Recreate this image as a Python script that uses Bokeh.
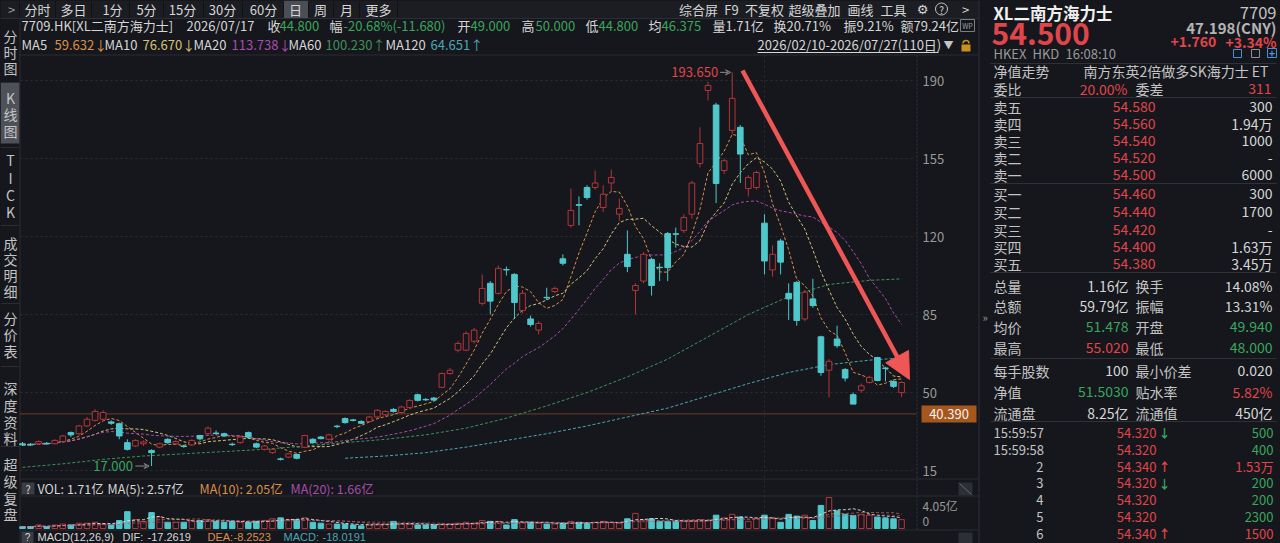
import numpy as np
import pandas as pd
from collections import defaultdict
from bokeh.plotting import figure
from bokeh.models import Range1d, ColumnDataSource, Arrow, NormalHead, VeeHead
from bokeh.core.properties import value
from bokeh.embed import file_html
from bokeh.resources import INLINE

# ---------------- data ----------------
opens = [27.0, 26.8, 27.0, 27.2, 27.0, 28.0, 32.0, 31.5, 35.0, 37.5,
         38.0, 36.8, 36.0, 27.5, 26.0, 27.0, 24.0, 25.5, 29.0, 27.0,
         26.0, 26.5, 30.7, 31.5, 31.8, 31.5, 26.8, 27.5, 32.0, 27.0,
         24.5, 23.0, 20.2, 21.0, 22.2, 25.4, 29.0, 30.0, 29.0, 34.9,
         38.3, 37.7, 37.0, 37.0, 39.0, 40.0, 42.4, 41.0, 43.3, 49.0,
         46.9, 47.5, 52.3, 58.5, 69.0, 69.0, 73.0, 90.0, 99.0, 94.5,
         105.2, 103.0, 86.8, 83.0, 78.0, 92.7, 95.3, 110.0, 125.0, 134.3,
         142.0, 142.0, 133.0, 144.0, 130.0, 112.0, 95.8, 100.0, 109.7, 106.2,
         121.3, 121.2, 122.7, 130.0, 152.8, 185.5, 179.0, 149.6, 167.6, 169.0,
         141.5, 142.0, 126.0, 105.0, 118.0, 94.5, 99.4, 83.0, 92.0, 75.0,
         60.0, 74.0, 60.3, 49.0, 51.0, 54.5, 65.7, 61.0, 55.0, 49.94]
closes = [26.5, 26.5, 28.0, 27.0, 28.5, 30.5, 31.0, 35.0, 38.0, 41.5,
          41.0, 36.2, 30.5, 24.5, 28.5, 27.8, 23.0, 27.0, 27.5, 28.0,
          25.8, 28.5, 29.2, 34.0, 31.6, 30.5, 26.6, 30.0, 30.0, 25.5,
          26.0, 24.5, 20.0, 22.5, 20.5, 30.7, 27.6, 29.3, 31.0, 34.7,
          36.5, 37.5, 36.2, 39.0, 42.0, 41.5, 41.5, 43.5, 46.4, 46.5,
          46.7, 46.6, 58.5, 60.0, 72.0, 76.5, 78.0, 96.7, 91.0, 105.7,
          105.0, 90.4, 94.5, 80.5, 81.0, 92.5, 96.7, 108.0, 131.7, 134.0,
          137.5, 144.0, 139.0, 146.5, 132.6, 106.5, 98.0, 112.0, 98.0, 106.0,
          106.0, 121.0, 128.5, 144.0, 161.7, 187.8, 143.8, 154.0, 182.0, 157.0,
          146.5, 148.7, 109.0, 112.0, 108.5, 92.0, 82.3, 95.0, 89.0, 59.0,
          64.0, 71.0, 56.48, 44.8, 53.0, 56.8, 55.4, 60.8, 52.74, 54.5]
highs = [27.8, 27.3, 28.5, 27.8, 29.0, 31.0, 32.5, 35.5, 39.0, 42.5,
         42.0, 37.5, 36.5, 29.0, 29.0, 28.5, 24.5, 27.5, 29.5, 28.5,
         26.5, 29.0, 31.0, 34.8, 33.0, 32.0, 27.5, 30.5, 32.5, 27.5,
         26.5, 25.0, 20.8, 23.0, 22.5, 31.0, 29.5, 30.5, 31.5, 35.5,
         38.8, 38.2, 37.5, 39.5, 42.5, 42.0, 43.0, 44.0, 47.0, 49.5,
         47.5, 48.0, 59.0, 61.0, 73.0, 77.5, 79.0, 103.0, 100.0, 107.0,
         106.5, 103.5, 96.0, 84.5, 82.0, 97.0, 97.5, 112.0, 141.5, 138.0,
         143.0, 149.6, 143.0, 150.0, 137.0, 122.7, 99.0, 113.0, 110.5, 108.0,
         122.0, 124.0, 130.0, 145.0, 169.0, 189.5, 180.0, 155.0, 193.65, 170.0,
         147.5, 149.5, 130.0, 116.0, 119.0, 99.0, 100.0, 96.0, 101.0, 75.5,
         65.0, 80.0, 61.0, 50.0, 54.0, 57.5, 66.0, 61.5, 55.5, 55.02]
lows = [26.0, 26.0, 26.6, 26.5, 26.8, 27.5, 30.0, 31.0, 34.5, 37.0,
        37.5, 35.5, 29.0, 24.0, 25.5, 26.0, 17.0, 25.0, 27.0, 26.5,
        25.2, 26.0, 28.5, 31.0, 31.0, 30.0, 26.0, 27.0, 29.5, 25.0,
        24.0, 22.5, 19.5, 20.5, 20.0, 25.0, 27.0, 29.0, 28.5, 34.0,
        36.0, 37.0, 35.8, 36.5, 38.5, 39.5, 41.0, 40.5, 43.0, 46.0,
        46.2, 46.2, 52.0, 58.0, 68.0, 68.5, 72.0, 89.0, 85.0, 94.0,
        102.5, 83.0, 85.5, 79.5, 76.0, 91.5, 94.5, 107.0, 124.0, 125.0,
        136.5, 141.0, 131.0, 140.0, 127.0, 104.0, 85.0, 99.0, 93.5, 100.0,
        100.0, 115.0, 121.5, 128.0, 151.0, 181.0, 135.0, 148.0, 166.0, 144.0,
        138.0, 141.0, 103.0, 102.0, 103.0, 82.5, 80.0, 82.0, 88.0, 57.5,
        47.8, 70.0, 55.0, 44.8, 50.0, 54.0, 55.0, 55.0, 52.0, 48.0]
volumes = [0.23, 0.23, 0.46, 0.23, 0.46, 0.58, 0.46, 0.69, 0.69, 0.81,
           0.58, 0.46, 1.04, 2.20, 1.16, 0.93, 2.08, 1.50, 0.81, 0.81,
           0.81, 1.04, 1.04, 1.16, 0.93, 0.81, 0.93, 0.81, 0.81, 0.93,
           1.04, 1.27, 1.39, 1.16, 1.16, 1.39, 0.81, 0.69, 0.58, 0.58,
           0.58, 0.46, 0.35, 0.46, 0.58, 0.58, 0.93, 0.58, 0.58, 0.46,
           0.46, 0.46, 0.58, 0.58, 0.69, 0.81, 0.69, 1.04, 0.93, 0.93,
           0.46, 1.16, 0.81, 0.81, 0.69, 0.58, 0.58, 0.69, 0.93, 0.81,
           0.69, 0.81, 0.93, 0.81, 0.69, 1.27, 1.97, 1.16, 1.27, 0.93,
           0.93, 0.93, 0.93, 1.04, 1.16, 1.04, 1.74, 1.39, 1.85, 1.50,
           0.93, 1.27, 1.74, 1.39, 0.81, 1.85, 1.62, 1.74, 1.04, 3.01,
           4.05, 2.31, 1.85, 1.71, 1.85, 1.74, 1.50, 1.39, 1.27, 1.16]
ma60_days = [0, 5, 10, 15, 20, 25, 30, 35, 40, 45, 50, 55, 60, 65, 70, 75, 80, 85, 90, 95, 100, 105, 109]
ma60_vals = [16.4, 18.0, 20.0, 21.5, 22.5, 23.5, 24.5, 26.0, 27.5, 29.0, 31.0, 34.0,
             38.5, 44.0, 50.0, 57.0, 65.0, 75.0, 85.0, 93.0, 98.5, 100.3, 101.0]
ma120_days = [40, 45, 50, 55, 60, 65, 70, 75, 80, 85, 90, 95, 100, 105, 109]
ma120_vals = [20.5, 21.5, 23.0, 25.5, 28.5, 31.5, 35.0, 39.0, 43.0, 48.5, 54.0, 59.0, 62.5, 64.5, 65.5]
price_ticks = [190, 155, 120, 85, 50, 15]
last_line_price = 40.39
hi_day, hi_price = 88, 193.65
lo_day, lo_price = 16, 17.0
vol_max = 4.05

# ---------------- layout / style ----------------
W, H = 1280, 543
FONT = "Noto Sans CJK SC"
FONT_LAT = "Liberation Sans"
BG = "#15171c"
SEP = "#2a2d33"
TXT = "#d6d6d6"
LBL = "#c4c4c4"
DIM = "#9a9a9a"
RED = "#e0454b"
GRN = "#3aa65c"
CYAN = "#4fc8cc"
CRED = "#b3363b"
C_MA5, C_MA10, C_MA20, C_MA60, C_MA120 = "#dc9048", "#d8c279", "#a84dad", "#3d9258", "#4aa6b5"

SLOT = 8.065      # px per trading day
X0 = 22           # px of day 0
PY0 = 80          # px of price 190
PPU = 78 / 35     # px per price unit
V0 = 528          # px of volume 0
VPPU = 31 / vol_max

p = figure(width=W, height=H, output_backend="svg", toolbar_location=None,
           x_range=Range1d(0, W), y_range=Range1d(H, 0),
           x_axis_location=None, y_axis_location=None, min_border=0,
           background_fill_color=BG, border_fill_color=BG, outline_line_color=None)
p.grid.visible = False
p.extra_x_ranges = {"idx": Range1d(-X0 / SLOT, (W - X0) / SLOT)}
p.extra_y_ranges = {"price": Range1d(190 - (H - PY0) / PPU, 190 + PY0 / PPU),
                    "vol": Range1d(-(H - V0) / VPPU, V0 / VPPU)}

def seg(x0, y0, x1, y1, color=SEP, width=1, dash="solid"):
    p.segment(x0=[x0], y0=[y0], x1=[x1], y1=[y1], line_color=color, line_width=width, line_dash=dash)

def box(l, r, t, b, color, line=None):
    p.quad(left=[l], right=[r], top=[t], bottom=[b], fill_color=color, line_color=line)

texts = []
def T(x, y, s, color=TXT, size=13, align="left", bold=False, font=FONT):
    texts.append((x, y, s, color, size, align, bold, font))

# ---------------- frame / separators ----------------
box(0, 978, 0, 17.5, "#1b1d22")
box(283, 308, 0, 17.5, "#4b4e55")
box(0, 19, 82, 143, "#4e5158")
seg(0, 18, 978, 18)
seg(978.5, 0, 978.5, H, "#30333a")
seg(19.5, 18, 19.5, H)
seg(19, 54.5, 978, 54.5)
seg(19, 478.5, 978, 478.5)
seg(19, 495.5, 978, 495.5)
seg(19, 529.5, 978, 529.5)
seg(916.5, 55, 916.5, 529, "#33363c", 1, "2 2")
for yy in [82, 147, 225, 303, 366, 446]:
    seg(0, yy, 19, yy)
for xx in [19, 55, 91, 129, 163, 203, 242, 283, 308, 333, 359, 397]:
    seg(xx, 1, xx, 17, "#111216")

# ---------------- top tab bar ----------------
T(11, 8.5, ">", DIM, 13, "center")
for s, x in [("分时", 37), ("多日", 73), ("1分", 112), ("5分", 146), ("15分", 182), ("30分", 222),
             ("60分", 263), ("日", 295), ("周", 320), ("月", 346), ("更多", 378)]:
    T(x, 8.5, s, TXT, 13, "center")
for s, x in [("综合屏", 698), ("F9", 731), ("不复权", 764), ("超级叠加", 814), ("画线", 860), ("工具", 893)]:
    T(x, 8.5, s, TXT, 13, "center")
T(922, 8.5, "⚙", TXT, 13, "center", font="DejaVu Sans")
p.circle(x=[941], y=[8.5], radius=6, fill_color=None, line_color=LBL, line_width=1)
T(941, 8.5, "?", TXT, 10, "center")
T(965, 8.5, ">", TXT, 13, "center")

# ---------------- sidebar ----------------
side = [("分", 35), ("时", 51), ("图", 67), ("K", 97), ("线", 113), ("图", 130),
        ("T", 159), ("I", 177), ("C", 194), ("K", 211),
        ("成", 242), ("交", 258), ("明", 274), ("细", 290),
        ("分", 317), ("价", 333), ("表", 350),
        ("深", 387), ("度", 404), ("资", 421), ("料", 437),
        ("超", 463), ("级", 480), ("复", 497), ("盘", 513)]
for s, y in side:
    T(10, y, s, LBL, 14, "center")

# ---------------- info rows ----------------
info = [("7709.HK[XL二南方海力士]", 21, TXT), ("2026/07/17", 186, TXT), ("收", 267, TXT), ("44.800", 279, GRN),
        ("幅", 329, TXT), ("-20.68%(-11.680)", 343, GRN), ("开", 457, TXT), ("49.000", 470, GRN),
        ("高", 521, TXT), ("50.000", 535, GRN), ("低", 585, TXT), ("44.800", 598, GRN),
        ("均", 648, TXT), ("46.375", 661, GRN), ("量1.71亿", 712, TXT), ("换20.71%", 773, TXT),
        ("振9.21%", 843, TXT), ("额79.24亿", 900, TXT)]
for s, x, c in info:
    T(x, 25, s, c, 13)
box(960, 974, 19, 31, None, "#7a7d84")
T(967, 25, "WP", "#9a9da4", 7, "center")

ma_leg = [("MA5", 21, TXT), ("59.632↓", 54, C_MA5), ("MA10", 104, TXT), ("76.670↓", 142, C_MA10),
          ("MA20", 193, TXT), ("113.738↓", 231, C_MA20), ("MA60", 288, TXT), ("100.230↑", 325, C_MA60),
          ("MA120", 385, TXT), ("64.651↑", 430, C_MA120)]
for s, x, c in ma_leg:
    T(x, 44, s, c, 13)
T(757, 44, "2026/02/10-2026/07/27(110日)", TXT, 13)
seg(757, 52, 938, 52, TXT)
T(948, 44, "▼", LBL, 10, "center")
box(961, 970, 44, 51, "#c8901e")
p.arc(x=[965.5], y=[43], radius=3, start_angle=0, end_angle=np.pi, line_color="#c8901e", line_width=1.5)

# ---------------- price chart ----------------
for t in price_ticks:
    p.segment(x0=[20], x1=[915], y0=[t], y1=[t], y_range_name="price",
              line_color="#2c2f35", line_width=1, line_dash="2 3")
p.text(x=[922] * len(price_ticks), y=price_ticks, text=[str(t) for t in price_ticks],
       y_range_name="price", text_color=DIM, text_font=value(FONT), text_font_size="13px",
       text_baseline="middle", text_align="left")
p.segment(x0=[92], x1=[92], y0=[55], y1=[529], x_range_name="idx",
          line_color="#2c2f35", line_width=1, line_dash="2 3")

n = len(closes)
days = list(range(n))
up = [c > o for o, c in zip(opens, closes)]
src = ColumnDataSource(dict(
    x=days, h=highs, l=lows,
    top=[max(o, c) for o, c in zip(opens, closes)],
    bot=[min(o, c) for o, c in zip(opens, closes)],
    lc=[CRED if u else CYAN for u in up],
    fc=[BG if u else CYAN for u in up],
    vol=volumes))

# last-price line
p.segment(x0=[19], x1=[916], y0=[last_line_price], y1=[last_line_price], y_range_name="price",
          line_color="#6e3f24", line_width=1)

# moving averages
cs = pd.Series(closes)
for win, col in [(5, C_MA5), (10, C_MA10), (20, C_MA20)]:
    p.line(days, list(cs.rolling(win, min_periods=1).mean()), x_range_name="idx", y_range_name="price",
           line_color=col, line_width=1, line_dash="3 2")
p.line(ma60_days, ma60_vals, x_range_name="idx", y_range_name="price",
       line_color=C_MA60, line_width=1, line_dash="3 2")
p.line(ma120_days, ma120_vals, x_range_name="idx", y_range_name="price",
       line_color=C_MA120, line_width=1, line_dash="3 2")

p.segment(x0="x", x1="x", y0="h", y1="l", line_color="lc", line_width=1, source=src,
          x_range_name="idx", y_range_name="price")
p.vbar(x="x", width=0.7, top="top", bottom="bot", fill_color="fc", line_color="lc", line_width=1,
       source=src, x_range_name="idx", y_range_name="price")

# high / low marks
p.text(x=[hi_day - 1.75], y=[hi_price], text=["%.3f" % hi_price], x_range_name="idx", y_range_name="price",
       text_color=RED, text_font=value(FONT), text_font_size="13px", text_align="right", text_baseline="middle")
p.add_layout(Arrow(x_start=hi_day - 1.5, x_end=hi_day - 0.2, y_start=hi_price, y_end=hi_price,
                   x_range_name="idx", y_range_name="price", line_color="#8a8a8a", line_width=1,
                   end=VeeHead(size=5, line_color="#8a8a8a", line_width=1)))
p.text(x=[lo_day - 2.3], y=[lo_price], text=["%.3f" % lo_price], x_range_name="idx", y_range_name="price",
       text_color=GRN, text_font=value(FONT), text_font_size="13px", text_align="right", text_baseline="middle")
p.add_layout(Arrow(x_start=lo_day - 2.0, x_end=lo_day - 0.3, y_start=lo_price, y_end=lo_price,
                   x_range_name="idx", y_range_name="price", line_color="#8a8a8a", line_width=1,
                   end=VeeHead(size=5, line_color="#8a8a8a", line_width=1)))

# last-price tag
p.quad(left=[921], right=[976], top=[last_line_price + 8.5 / PPU], bottom=[last_line_price - 8.5 / PPU],
       y_range_name="price", fill_color="#a8571c", line_color=None)
p.text(x=[948.5], y=[last_line_price], text=["%.3f" % last_line_price], y_range_name="price",
       text_color="#f2f2f2", text_font=value(FONT), text_font_size="13px", text_align="center",
       text_baseline="middle")

# big drawn arrow
p.add_layout(Arrow(x_start=742, y_start=70, x_end=909, y_end=379, line_color="#ef5656", line_width=4.5,
                   end=NormalHead(size=26, fill_color="#ef5656", line_color="#ef5656")))

# ---------------- volume pane ----------------
box(21, 34, 482, 494, "#3a3d44")
T(27.5, 488, "?", TXT, 11, "center")
for s, x, c in [("VOL: 1.71亿", 37, TXT), ("MA(5): 2.57亿", 107, TXT),
                ("MA(10): 2.05亿", 199, C_MA5), ("MA(20): 1.66亿", 290, C_MA20)]:
    T(x, 488, s, c, 12.5)
p.vbar(x="x", width=0.68, top="vol", bottom=0, fill_color="fc", line_color="lc", line_width=1,
       source=src, x_range_name="idx", y_range_name="vol")
vs = pd.Series(volumes)
for win, col, al in [(5, "#e6e6e6", 0.9), (10, C_MA5, 0.6), (20, C_MA20, 0.6)]:
    p.line(days, list(vs.rolling(win, min_periods=1).mean()), x_range_name="idx", y_range_name="vol",
           line_color=col, line_width=1, line_dash="3 2", line_alpha=al)
p.text(x=[922, 922], y=[vol_max, 0], text=["%.2f亿" % vol_max, "0"], y_range_name="vol",
       y_offset=[8, -7], text_color=DIM, text_font=value(FONT), text_font_size="12px",
       text_baseline="middle", text_align="left")
box(958, 972, 482, 495, "#2c2f35")
seg(959, 483, 971, 494, "#666a71")
box(958, 972, 532, 543, "#2c2f35")

# ---------------- MACD header ----------------
box(21, 33, 531, 543, "#3a3d44")
T(27, 536.5, "?", TXT, 10, "center", font=FONT_LAT)
for s, x, c in [("MACD(12,26,9)", 37, TXT), ("DIF:", 122, TXT), ("-17.2619", 147, TXT),
                ("DEA:", 207, C_MA5), ("-8.2523", 233, C_MA5), ("MACD:", 283, C_MA120), ("-18.0191", 322, C_MA120)]:
    T(x, 536.5, s, c, 11, font=FONT_LAT)

# ---------------- right quote panel ----------------
T(993, 12.5, "XL二南方海力士", "#f0f0f0", 16.5, bold=True)
T(1276, 12.5, "7709", LBL, 16.5, "right")
T(991, 33, "54.500", RED, 30, bold=True)
T(1276, 27, "47.198(CNY)", "#b4b4b4", 15, "right", bold=True)
T(1170, 41, "+1.760", RED, 14, bold=True)
T(1276, 41, "+3.34%", RED, 14, "right", bold=True)
T(993, 53, "HKEX", DIM, 13)
T(1032, 53, "HKD", DIM, 13)
T(1065, 53, "16:08:10", DIM, 13)
box(1233, 1241, 49, 57, None, "#4a90d9")
box(1251, 1259, 49, 57, None, "#8c8f96")
box(1267, 1276, 48, 57, None, "#4a90d9")
T(1271.5, 52.5, "+", "#4a90d9", 11, "center", bold=True)
for yy in [63, 97, 183, 272, 358, 421]:
    seg(990, yy, 1276, yy, "#2e3137")
T(982, 316, "»", DIM, 11, "left")

T(993, 70, "净值走势", LBL, 14)
T(1268, 70, "南方东英2倍做多SK海力士 ET", LBL, 14, "right")
T(993, 88, "委比", LBL, 14)
T(1127, 88, "20.00%", RED, 14, "right")
T(1135, 88, "委差", LBL, 14)
T(1271, 88, "311", RED, 14, "right")

ask_labels = ["卖五", "卖四", "卖三", "卖二", "卖一"]
ask_prices = ["54.580", "54.560", "54.540", "54.520", "54.500"]
ask_sizes = ["300", "1.94万", "1000", "-", "6000"]
bid_labels = ["买一", "买二", "买三", "买四", "买五"]
bid_prices = ["54.460", "54.440", "54.420", "54.400", "54.380"]
bid_sizes = ["300", "1700", "-", "1.63万", "3.45万"]
for lab, pr, sz, y in zip(ask_labels + bid_labels, ask_prices + bid_prices, ask_sizes + bid_sizes,
                          [106, 123, 140, 157, 174, 193, 211, 229, 246, 263]):
    T(993, y, lab, LBL, 14)
    T(1155, y, pr, RED, 14, "right")
    T(1272, y, sz, TXT, 14, "right")

stats = [("总量", "1.16亿", TXT, "换手", "14.08%", TXT, 285),
         ("总额", "59.79亿", TXT, "振幅", "13.31%", TXT, 305),
         ("均价", "51.478", GRN, "开盘", "49.940", GRN, 326),
         ("最高", "55.020", RED, "最低", "48.000", GRN, 347),
         ("每手股数", "100", TXT, "最小价差", "0.020", TXT, 370),
         ("净值", "51.5030", GRN, "贴水率", "5.82%", RED, 391),
         ("流通盘", "8.25亿", TXT, "流通值", "450亿", TXT, 412)]
for l1, v1, c1, l2, v2, c2, y in stats:
    T(993, y, l1, LBL, 14)
    T(1128, y, v1, c1, 14, "right")
    T(1135, y, l2, LBL, 14)
    T(1272, y, v2, c2, 14, "right")

tick_times = ["15:59:57", "15:59:58", "2", "3", "4", "5", "6"]
tick_prices = ["54.320", "54.320", "54.340", "54.320", "54.320", "54.320", "54.340"]
tick_dirs = ["↓", "", "↑", "↓", "", "", "↑"]
tick_sizes = ["500", "400", "1.53万", "200", "200", "2300", "1500"]
tick_side = ["s", "s", "b", "s", "s", "s", "b"]
for tt, pr, dr, sz, sd, y in zip(tick_times, tick_prices, tick_dirs, tick_sizes, tick_side,
                                 [432, 449, 466, 482.5, 499.5, 516.5, 533]):
    if ":" in tt:
        T(993, y, tt, LBL, 13)
    else:
        T(1043, y, tt, LBL, 13, "right")
    T(1156, y, pr, RED, 13, "right")
    if dr:
        T(1164, y, dr, GRN if dr == "↓" else RED, 12, "center", bold=True)
    T(1273, y, sz, GRN if sd == "s" else RED, 13, "right")

# ---------------- emit grouped texts ----------------
groups = defaultdict(lambda: dict(x=[], y=[], text=[], color=[]))
for x, y, s, c, sz, al, b, f in texts:
    g = groups[(sz, al, b, f)]
    g["x"].append(x); g["y"].append(y); g["text"].append(s); g["color"].append(c)
for (sz, al, b, f), g in groups.items():
    p.text(x="x", y="y", text="text", text_color="color", source=ColumnDataSource(g),
           text_font=value(f), text_font_size=f"{sz}px", text_align=al, text_baseline="middle",
           text_font_style="bold" if b else "normal")

html = file_html(p, INLINE, title="7709.HK")
html = html.replace("<head>", "<head><style>html,body{margin:0;padding:0;background:#15171c;overflow:hidden}</style>", 1)
with open("out.html", "w") as f:
    f.write(html)
